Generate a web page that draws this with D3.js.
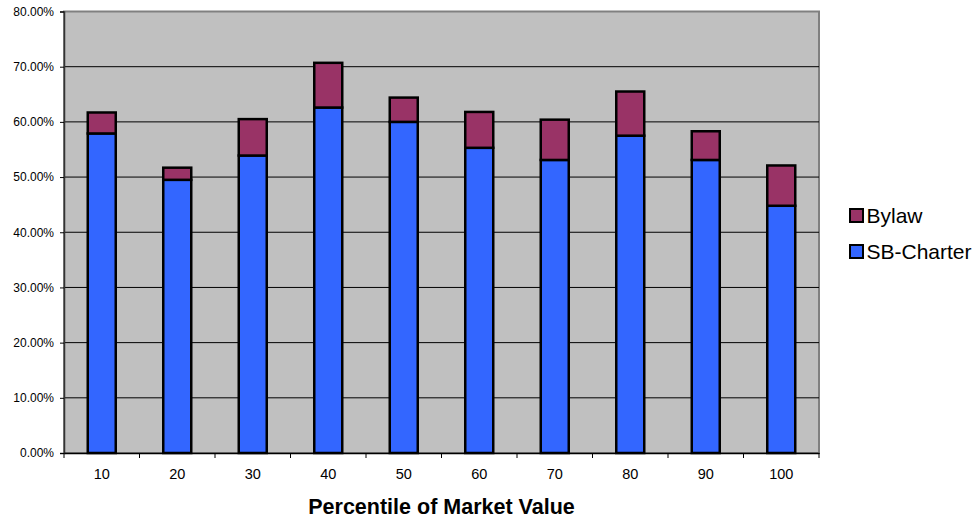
<!DOCTYPE html>
<html><head><meta charset="utf-8">
<script src="https://cdn.jsdelivr.net/npm/d3@7"></script>
<style>body{margin:0;background:#fff;} svg{display:block;font-family:Arial, "Liberation Sans", sans-serif;}</style>
</head><body>
<svg id="chart" width="978" height="520"></svg>
<script>
const categories = ["10","20","30","40","50","60","70","80","90","100"];
const sbCharter = [57.9, 49.5, 53.9, 62.6, 60.0, 55.3, 53.1, 57.5, 53.1, 44.8];
const bylaw = [3.8, 2.2, 6.6, 8.1, 4.4, 6.5, 7.3, 8.0, 5.2, 7.3];
const yTicks = [0,10,20,30,40,50,60,70,80];
const seriesNames = ["SB-Charter","Bylaw"];
const seriesColors = ["#3366FF","#993366"];
const xTitle = "Percentile of Market Value";

const svg = d3.select("#chart");
const L = 64, R = 819, T = 11.5, B = 453;
const x = d3.scaleBand().domain(categories).range([L, R]);
const y = d3.scaleLinear().domain([0, 80]).range([B, T]);

svg.append("rect").attr("x", L).attr("y", T).attr("width", R - L).attr("height", B - T)
  .attr("fill", "#C0C0C0").attr("stroke", "#808080").attr("stroke-width", 2);

svg.append("g").selectAll("line").data(yTicks.filter(d => d > 0 && d < 80)).join("line")
  .attr("x1", L).attr("x2", R).attr("y1", d => y(d)).attr("y2", d => y(d))
  .attr("stroke", "#000").attr("stroke-width", 1);

const rows = categories.map((c, i) => ({cat: c, "SB-Charter": sbCharter[i], "Bylaw": bylaw[i]}));
const stacked = d3.stack().keys(seriesNames)(rows);
const bw = 28;
svg.append("g").selectAll("g").data(stacked).join("g")
  .attr("fill", (d, i) => seriesColors[i])
  .selectAll("rect").data(d => d).join("rect")
  .attr("x", d => x(d.data.cat) + x.bandwidth() / 2 - bw / 2)
  .attr("width", bw)
  .attr("y", d => y(d[1]))
  .attr("height", d => y(d[0]) - y(d[1]))
  .attr("stroke", "#000").attr("stroke-width", 2.5);

// Y axis
const yAxis = d3.axisLeft(y).tickValues(yTicks).tickSize(4).tickFormat(d => d.toFixed(2) + "%");
const gy = svg.append("g").attr("transform", `translate(${L},0)`).call(yAxis);
gy.select(".domain").attr("stroke", "#333").attr("stroke-width", 1.5);
gy.selectAll(".tick line").attr("stroke", "#000");
gy.selectAll(".tick text").attr("font-size", 12).attr("fill", "#000").attr("x", -10)
  .attr("font-family", "Arial, 'Liberation Sans', sans-serif");

// X axis
const gx = svg.append("g").attr("transform", `translate(0,${B})`)
  .call(d3.axisBottom(x).tickSize(0).tickPadding(16));
gx.select(".domain").attr("stroke", "#000").attr("stroke-width", 1.5);
gx.selectAll(".tick text").attr("font-size", 14.5).attr("fill", "#000")
  .attr("font-family", "Arial, 'Liberation Sans', sans-serif");
const bounds = categories.map(c => x(c)).concat([R]);
gx.append("g").selectAll("line").data(bounds).join("line")
  .attr("x1", d => d).attr("x2", d => d).attr("y1", 0).attr("y2", 5)
  .attr("stroke", "#000").attr("stroke-width", 1);

svg.append("text").attr("x", (L + R) / 2).attr("y", 514).attr("text-anchor", "middle")
  .attr("font-size", 21.5).attr("font-weight", "bold").text(xTitle);

// Legend
const legendItems = [{name: "Bylaw", color: seriesColors[1]}, {name: "SB-Charter", color: seriesColors[0]}];
const lg = svg.append("g");
legendItems.forEach((it, i) => {
  const yy = 209 + i * 36;
  lg.append("rect").attr("x", 850).attr("y", yy).attr("width", 13).attr("height", 13)
    .attr("fill", it.color).attr("stroke", "#000").attr("stroke-width", 2);
  lg.append("text").attr("x", 866.5).attr("y", yy + 14).attr("font-size", 21).attr("fill", "#000").text(it.name);
});
</script>
</body></html>
